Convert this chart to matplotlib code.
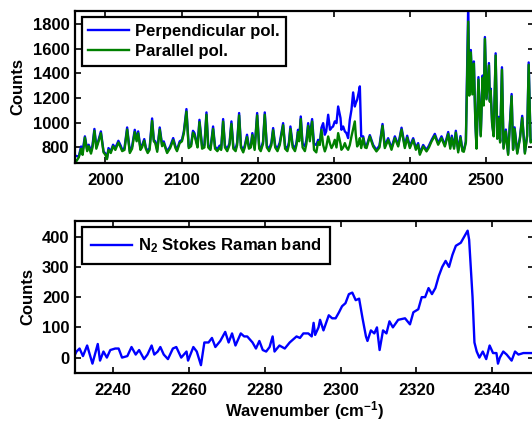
import matplotlib
matplotlib.use("Agg")
import matplotlib.pyplot as plt

plt.rcParams['font.family'] = ['Liberation Sans', 'DejaVu Sans']
plt.rcParams['font.weight'] = 'bold'
plt.rcParams['font.size'] = 12
plt.rcParams['mathtext.fontset'] = 'custom'
plt.rcParams['mathtext.bf'] = 'Liberation Sans:bold'
plt.rcParams['mathtext.rm'] = 'Liberation Sans:bold'
plt.rcParams['mathtext.default'] = 'bf'

# ---------------- top panel data ----------------
wn_top = [1960, 1962, 1965, 1968, 1970, 1973, 1976, 1978, 1981, 1983,
          1985.5, 1988, 1989, 1991, 1994, 1997.5, 2000, 2002, 2004, 2007,
          2010, 2013, 2017, 2020, 2022, 2025, 2028.5, 2032, 2035, 2038.5,
          2041, 2043, 2046, 2048, 2051, 2053, 2055.5, 2058, 2061.3, 2063.5,
          2065.5, 2068, 2071.3, 2074.4, 2076.6, 2079, 2081, 2085, 2089, 2092,
          2094, 2097.5, 2100.5, 2103, 2106.4, 2109.4, 2112.5, 2115, 2117, 2119.5,
          2121, 2123.5, 2127, 2130, 2132.7, 2135, 2138, 2141.4, 2144, 2147,
          2150, 2152, 2154.6, 2157, 2160, 2163, 2165.5, 2168, 2171, 2173,
          2175.6, 2178, 2181, 2183, 2186, 2188.5, 2191, 2193, 2196, 2199.3,
          2202, 2204, 2207, 2209.3, 2212, 2215, 2218, 2220.3, 2223, 2226,
          2229, 2233.4, 2236, 2239, 2241, 2243, 2246, 2249, 2251, 2253,
          2254.5, 2256.6, 2259, 2262, 2264, 2266.3, 2268.5, 2271.5, 2274, 2277,
          2279.4, 2281.6, 2283.8, 2286, 2288.2, 2290, 2292.6, 2295, 2297, 2299,
          2301.3, 2303.5, 2305.7, 2308.8, 2310, 2312.3, 2314.5, 2316.6, 2318.8, 2321,
          2323.2, 2325.4, 2327.6, 2328.9, 2330.7, 2332.5, 2334.2, 2336, 2338.6, 2341,
          2343, 2347.3, 2351.7, 2356, 2360, 2364, 2367, 2371.4, 2375.8, 2380.2,
          2384.6, 2389, 2393.3, 2396.4, 2399.9, 2404.3, 2407.8, 2410.8, 2413, 2417.4,
          2421.8, 2425, 2428.4, 2432.7, 2437.1, 2441.5, 2445.9, 2450.3, 2453, 2455,
          2458, 2460.3, 2463.4, 2466.4, 2469, 2470.8, 2473.5, 2475.2, 2476.6, 2478,
          2480, 2482, 2484, 2486, 2487.5, 2490, 2493, 2495.5, 2497, 2498.5,
          2500.6, 2503.8, 2505, 2506, 2508, 2510, 2512.6, 2514.7, 2516.5, 2518.5,
          2520.9, 2523, 2526, 2529, 2533.6, 2535.5, 2537.5, 2541, 2544.5, 2547.5,
          2551, 2554, 2556, 2558.5, 2563]

parallel = [700, 690, 720, 790, 740, 880, 770, 810, 750, 800,
            935, 790, 810, 850, 915, 760, 740, 705, 780, 755,
            810, 780, 840, 800, 770, 780, 945, 755, 790, 925,
            850, 915, 780, 800, 855, 790, 755, 780, 1015, 850,
            835, 765, 945, 810, 835, 790, 755, 795, 860, 795,
            770, 835, 850, 915, 1090, 795, 810, 920, 900, 835,
            800, 1005, 790, 800, 1065, 800, 780, 950, 790, 770,
            800, 780, 1010, 800, 770, 820, 990, 790, 770, 820,
            1060, 800, 760, 800, 885, 790, 800, 900, 780, 1060,
            790, 770, 830, 1065, 800, 770, 820, 940, 800, 770,
            820, 980, 790, 770, 820, 950, 800, 770, 820, 925,
            850, 1030, 800, 770, 830, 975, 850, 1010, 780, 760,
            845, 820, 943, 820, 768, 800, 889, 830, 795, 820,
            862, 800, 916, 830, 781, 800, 835, 800, 781, 820,
            889, 950, 1011, 900, 808, 830, 876, 795, 876, 800,
            795, 889, 808, 768, 800, 975, 795, 862, 781, 876,
            808, 945, 795, 880, 795, 862, 781, 822, 741, 808,
            768, 800, 849, 895, 822, 876, 808, 910, 790, 880,
            790, 920, 760, 880, 770, 765, 840, 1400, 1820, 1220,
            1570, 1230, 1480, 990, 790, 1350, 890, 1365, 1140, 1680,
            1190, 1465, 1170, 1260, 990, 890, 1545, 870, 1035, 840,
            1430, 790, 930, 740, 1215, 780, 950, 750, 870, 1040,
            750, 890, 1470, 840, 860]

perpendicular = [735, 730, 727, 808, 770, 890, 781, 822, 768, 820,
                 950, 810, 822, 862, 930, 768, 750, 714, 795, 768,
                 822, 795, 854, 815, 781, 795, 962, 768, 808, 943,
                 862, 930, 795, 815, 868, 800, 768, 795, 1035, 862,
                 849, 781, 962, 822, 849, 800, 768, 808, 876, 808,
                 781, 849, 862, 930, 1111, 808, 822, 935, 916, 849,
                 815, 1024, 810, 820, 1084, 815, 795, 970, 805, 785,
                 815, 790, 1030, 815, 785, 835, 1011, 805, 785, 840,
                 1079, 815, 775, 815, 903, 805, 815, 916, 795, 1079,
                 805, 785, 845, 1084, 815, 785, 840, 957, 815, 790,
                 840, 997, 810, 790, 840, 970, 820, 790, 840, 943,
                 870, 1051, 830, 810, 860, 997, 900, 1030, 830, 820,
                 862, 835, 960, 997, 903, 930, 1065, 943, 960, 970,
                 1011, 997, 1132, 1038, 943, 970, 930, 916, 876, 1024,
                 1105, 1246, 1132, 1160, 1187, 1240, 1295, 889, 890, 815,
                 810, 900, 820, 780, 815, 990, 810, 875, 795, 890,
                 820, 960, 810, 895, 810, 875, 795, 835, 755, 820,
                 780, 815, 860, 910, 835, 890, 820, 925, 805, 895,
                 805, 935, 775, 892, 780, 776, 851, 1450, 1960, 1233,
                 1590, 1250, 1497, 1000, 800, 1370, 900, 1383, 1150, 1695,
                 1200, 1484, 1180, 1277, 1000, 900, 1563, 880, 1048, 850,
                 1450, 800, 945, 750, 1233, 790, 963, 760, 880, 1056,
                 760, 900, 1489, 850, 870]

# ---------------- bottom panel data ----------------
wn_n2 = [2229.6, 2230.4, 2231.2, 2232.1, 2233.2, 2233.9, 2234.6, 2236.0, 2236.6, 2237.5,
         2238.4, 2239.3, 2240.6, 2241.5, 2242.4, 2243.8, 2244.9, 2246.0, 2246.9, 2248.2,
         2249.1, 2250.2, 2250.9, 2251.8, 2252.5, 2253.4, 2254.5, 2255.8, 2256.7, 2258.0,
         2259.4, 2259.8, 2261.2, 2262.1, 2263.2, 2264.1, 2265.2, 2266.1, 2267.0, 2268.3,
         2269.6, 2270.5, 2271.4, 2272.3, 2273.7, 2274.6, 2275.4, 2276.8, 2277.7, 2278.6,
         2279.5, 2280.4, 2281.3, 2282.1, 2282.6, 2283.9, 2285.3, 2286.6, 2287.5, 2288.4,
         2289.3, 2290.2, 2291.5, 2292.4, 2292.9, 2293.3, 2294.2, 2294.6, 2295.5, 2296.9,
         2297.8, 2298.7, 2299.6, 2300.4, 2301.3, 2302.2, 2303.1, 2304.0, 2304.9, 2305.8,
         2306.7, 2307.1, 2308.0, 2308.9, 2309.6, 2310.3, 2311.2, 2312.1, 2312.9, 2313.8,
         2315.2, 2317.0, 2318.3, 2319.2, 2320.5, 2321.4, 2322.3, 2323.2, 2324.1, 2325.0,
         2325.9, 2326.8, 2327.7, 2328.6, 2329.5, 2330.4, 2331.7, 2333.5, 2333.9, 2334.8,
         2335.3, 2335.9, 2336.6, 2337.5, 2338.4, 2339.3, 2340.2, 2341.1, 2341.5, 2342.0,
         2342.9, 2343.8, 2345.1, 2346.0, 2346.9, 2348.2, 2349.8, 2351.0]

n2_band = [0, 20, 30, 5, 40, 10, -20, 45, -10, 20,
           0, 25, 30, 30, 0, 5, 35, 10, 25, -5,
           10, 40, 10, 20, 35, 10, -5, 30, 35, 0,
           20, -10, 35, 20, -25, 50, 50, 65, 35, 55,
           85, 50, 80, 40, 80, 70, 70, 50, 30, 55,
           25, 20, 35, 70, 20, 40, 30, 50, 60, 70,
           65, 80, 80, 70, 115, 75, 100, 125, 90, 140,
           130, 130, 150, 170, 180, 210, 215, 190, 195, 130,
           70, 55, 90, 80, 100, 25, 90, 80, 120, 100,
           125, 130, 110, 150, 160, 200, 200, 230, 210, 230,
           270, 300, 320, 300, 340, 370, 380, 420, 390, 200,
           50, 20, 0, 20, -5, 40, 15, 15, -20, 0,
           20, 10, -10, 20, 10, 15, 15, 15]

top_xticks = [2000, 2100, 2200, 2300, 2400, 2500]
top_yticks = [800, 1000, 1200, 1400, 1600, 1800]
bot_xticks = [2240, 2260, 2280, 2300, 2320, 2340]
bot_yticks = [0, 100, 200, 300, 400]

BLUE = (0, 0, 1)
GREEN = (0, 0.5, 0)

fig = plt.figure(figsize=(5.32, 4.21), dpi=100)
W, H = 532.0, 421.0
left_px, right_px = 75.0, 534.0
ax1 = fig.add_axes([left_px / W, 1 - 162.5 / H, (right_px - left_px) / W, 152 / H])
ax2 = fig.add_axes([left_px / W, 1 - 372.7 / H, (right_px - left_px) / W, 152 / H])

ax1.plot(wn_top, perpendicular, color=BLUE, lw=1.7, label='Perpendicular pol.')
ax1.plot(wn_top, parallel, color=GREEN, lw=1.7, label='Parallel pol.')
ax1.set_xlim(1960, 2563)
ax1.set_ylim(678, 1910)
ax1.set_xticks(top_xticks)
ax1.set_yticks(top_yticks)
ax1.set_ylabel('Counts', fontweight='bold', fontsize=12, labelpad=5)

ax2.plot(wn_n2, n2_band, color=BLUE, lw=1.7, label='N$_2$ Stokes Raman band')
ax2.set_xlim(2230, 2351)
ax2.set_ylim(-50, 453)
ax2.set_xticks(bot_xticks)
ax2.set_yticks(bot_yticks)
ax2.set_ylabel('Counts', fontweight='bold', fontsize=12, labelpad=5)
ax2.set_xlabel('Wavenumber (cm$^{-1}$)', fontweight='bold', fontsize=12, labelpad=1)

for ax, bpad, lspace in ((ax1, 0.4, 0.3), (ax2, 0.55, 0.3)):
    for sp in ax.spines.values():
        sp.set_linewidth(1.6)
        sp.set_color('black')
    ax.tick_params(direction='in', top=True, right=True, length=4, width=1.2,
                   labelsize=12)
    ax.tick_params(axis='x', pad=7.5)
    ax.tick_params(axis='y', pad=4)
    for lab in ax.get_xticklabels() + ax.get_yticklabels():
        lab.set_fontweight('bold')
    leg = ax.legend(loc='upper left', prop={'weight': 'bold', 'size': 12},
                    frameon=True, fancybox=False, framealpha=1, edgecolor='black',
                    borderpad=bpad, labelspacing=lspace, handlelength=2.45,
                    handletextpad=0.35, borderaxespad=0.4)
    leg.get_frame().set_linewidth(1.6)

fig.savefig('out.png', dpi=100)
